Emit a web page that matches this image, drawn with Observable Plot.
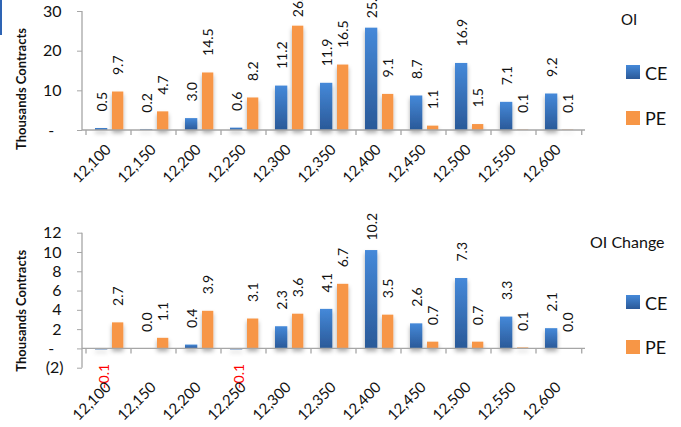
<!DOCTYPE html>
<html><head><meta charset="utf-8">
<script src="https://cdn.jsdelivr.net/npm/d3@7"></script>
<script src="https://cdn.jsdelivr.net/npm/@observablehq/plot@0.6"></script>
<style>
html,body{margin:0;padding:0;background:#fff;}
#wrap{position:relative;width:681px;height:427px;overflow:hidden;font-family:Lato,sans-serif;background:#fff;}
.chart{position:absolute;left:0;}
.leg{position:absolute;font-family:Lato,sans-serif;color:#111;line-height:1;white-space:nowrap;}
.sw{position:absolute;width:14px;height:14px;}
</style></head><body><div id="wrap"></div>
<script>
// ---- data ----
const strikes = [12100, 12150, 12200, 12250, 12300, 12350, 12400, 12450, 12500, 12550, 12600];
const strikeLabels = strikes.map(d3.format(","));
const oiCE = [0.5, 0.2, 3.0, 0.6, 11.2, 11.9, 25.8, 8.7, 16.9, 7.1, 9.2];
const oiPE = [9.7, 4.7, 14.5, 8.2, 26.3, 16.5, 9.1, 1.1, 1.5, 0.1, 0.1];
const chgCE = [-0.1, 0.0, 0.4, -0.1, 2.3, 4.1, 10.2, 2.6, 7.3, 3.3, 2.1];
const chgPE = [2.7, 1.1, 3.9, 3.1, 3.6, 6.7, 3.5, 0.7, 0.7, 0.1, 0.0];
const oiTicks = [0, 10, 20, 30];
const chgTicks = [-2, 0, 2, 4, 6, 8, 10, 12];
const seriesNames = ["CE", "PE"];
const yTitle = "Thousands Contracts";

const CE_TOP = "#4589d9", CE_BOT = "#2a5998", PE_COL = "#f79646", AXIS = "#a6a6a6";

function fmtVal(v) { return (v < 0 ? "-" : "") + Math.abs(v).toFixed(1); }
function fmtTick(d) { return d === 0 ? "-\u2007" : d < 0 ? `(${-d})` : `${d}\u2009`; }

function makeChart(cfg) {
  const rows = strikes.map((s, i) => ({label: strikeLabels[i], CE: cfg.ce[i], PE: cfg.pe[i]}));
  const id = cfg.id;
  // labels near the top of the plot are pushed down (as the spreadsheet does)
  const nearTop = v => v > cfg.yDomain[1] * 0.8;
  const defsMark = () => {
    const g = d3.create("svg:g");
    const defs = g.append("defs");
    const gr = defs.append("linearGradient").attr("id", id + "-ce")
      .attr("x1", 0).attr("y1", 0).attr("x2", 0).attr("y2", 1);
    gr.append("stop").attr("offset", "0%").attr("stop-color", CE_TOP);
    gr.append("stop").attr("offset", "100%").attr("stop-color", CE_BOT);
    const f = defs.append("filter").attr("id", id + "-sh")
      .attr("x", "-50%").attr("y", "-20%").attr("width", "200%").attr("height", "160%");
    f.append("feDropShadow").attr("dx", 0).attr("dy", 3).attr("stdDeviation", 2.2)
      .attr("flood-color", "#000").attr("flood-opacity", 0.32);
    return g.node();
  };
  const axesMark = (index, scales, values, dim) => {
    const {x, y} = scales;
    const g = d3.create("svg:g").attr("stroke", AXIS).attr("stroke-width", 1.3).attr("fill", "none");
    const left = dim.marginLeft, right = dim.width - dim.marginRight;
    const bw = (right - left) / strikeLabels.length;
    const y0 = y(0);
    g.append("line").attr("x1", left).attr("x2", left)
      .attr("y1", y(cfg.yDomain[1])).attr("y2", y(cfg.yDomain[0]));
    g.append("line").attr("x1", left).attr("x2", right).attr("y1", y0).attr("y2", y0);
    const xs = strikeLabels.map(l => x(l));
    xs.push(x(strikeLabels[strikeLabels.length - 1]) + bw);
    for (const xx of xs) g.append("line").attr("x1", xx).attr("x2", xx).attr("y1", y0).attr("y2", y0 + 5);
    return g.node();
  };
  const lab = {x: "label", rotate: -90, fontSize: 14, fill: "#111"};
  const svg = Plot.plot({
    width: 681, height: cfg.height,
    marginLeft: 82, marginRight: 96, marginTop: cfg.mt, marginBottom: cfg.mb,
    style: {fontFamily: "Lato, sans-serif", background: "transparent", overflow: "visible"},
    x: {domain: strikeLabels, padding: 0, axis: null},
    y: {domain: cfg.yDomain, axis: null, label: null},
    marks: [
      defsMark,
      Plot.barY(rows, {x: "label", y: "CE", fill: `url(#${id}-ce)`, insetLeft: 9, insetRight: 23.7}),
      Plot.barY(rows, {x: "label", y: "PE", fill: PE_COL, insetLeft: 26, insetRight: 7.7}),
      axesMark,
      Plot.axisY({ticks: cfg.yTicks, tickSize: 5, tickPadding: 14, tickFormat: fmtTick,
        fontSize: 16, stroke: AXIS, fill: "#111", label: null}),
      Plot.text(rows, {...lab, y: "CE", text: d => fmtVal(d.CE), filter: d => d.CE >= 0 && !nearTop(d.CE),
        textAnchor: "start", dy: -17, dx: -6}),
      Plot.text(rows, {...lab, y: "CE", text: d => fmtVal(d.CE), filter: d => nearTop(d.CE),
        textAnchor: "start", dy: -10, dx: -6}),
      Plot.text(rows, {...lab, y: "CE", text: d => fmtVal(d.CE), filter: d => d.CE < 0,
        textAnchor: "end", dy: 14, dx: -4, fill: "#ff0000"}),
      Plot.text(rows, {...lab, y: "PE", text: d => fmtVal(d.PE), filter: d => d.PE >= 0 && !nearTop(d.PE),
        textAnchor: "start", dy: -17, dx: 10}),
      Plot.text(rows, {...lab, y: "PE", text: d => fmtVal(d.PE), filter: d => nearTop(d.PE),
        textAnchor: "start", dy: -9, dx: 10}),
      Plot.text(rows, {x: "label", text: "label", frameAnchor: "bottom", dy: 20, dx: 3,
        rotate: -45, textAnchor: "end", fontSize: 15, fill: "#111"}),
      Plot.text([yTitle], {frameAnchor: "left", text: d => d, dx: -61, dy: cfg.titleDy,
        rotate: -90, textAnchor: "middle", fontWeight: "bold", fontSize: 13, fill: "#111"})
    ]
  });
  d3.select(svg).selectAll('g[aria-label="bar"]').attr("filter", `url(#${id}-sh)`);
  svg.classList.add("chart");
  svg.style.top = cfg.top + "px";
  return svg;
}

const wrap = document.getElementById("wrap");
wrap.appendChild(makeChart({id: "oi", ce: oiCE, pe: oiPE, yDomain: [0, 30], yTicks: oiTicks,
  height: 205, mt: 11, mb: 75, top: 0, titleDy: 18}));
wrap.appendChild(makeChart({id: "chg", ce: chgCE, pe: chgPE, yDomain: [-2, 12], yTicks: chgTicks,
  height: 222, mt: 27.7, mb: 59.3, top: 205, titleDy: 10}));

function legend(title, titleTop, titleLeft, titleSize, ceTop, peTop) {
  const add = (html, css) => { const e = document.createElement("div"); e.className = "leg"; e.textContent = html; Object.assign(e.style, css); wrap.appendChild(e); return e; };
  add(title, {left: titleLeft + "px", top: titleTop + "px", fontSize: titleSize + "px"});
  const sw = (top, bg) => { const e = document.createElement("div"); e.className = "sw"; e.style.left = "626px"; e.style.top = top + "px"; e.style.background = bg; wrap.appendChild(e); };
  sw(ceTop + 1, `linear-gradient(${CE_TOP}, ${CE_BOT})`);
  sw(peTop + 2, PE_COL);
  add(seriesNames[0], {left: "645px", top: ceTop + "px", fontSize: "18px"});
  add(seriesNames[1], {left: "645px", top: peTop + "px", fontSize: "18px"});
}
legend("OI", 12, 621, 15, 64, 109);
legend("OI Change", 234, 590, 16, 294, 338);

const art = document.createElement("div");
Object.assign(art.style, {position: "absolute", left: "0px", top: "0px", width: "2px", height: "35px", background: "#2e64b4"});
wrap.appendChild(art);
</script></body></html>
